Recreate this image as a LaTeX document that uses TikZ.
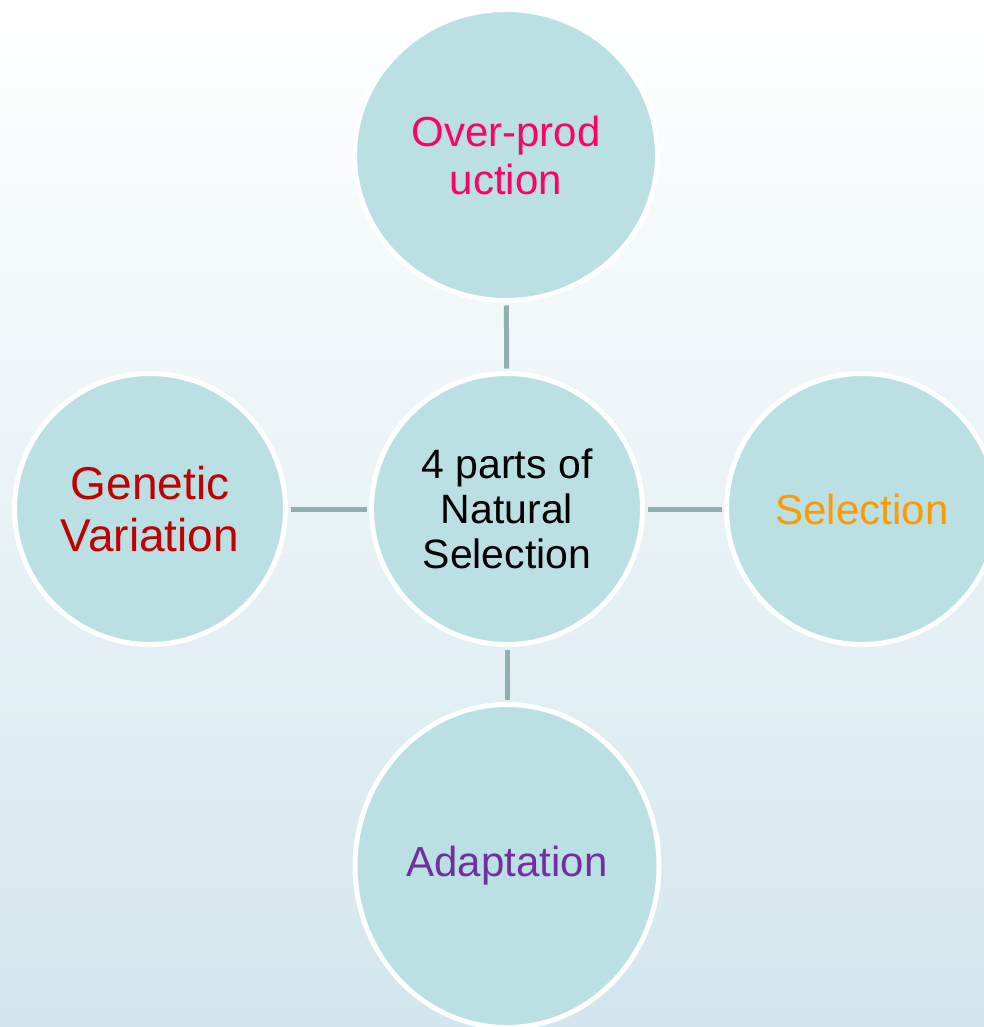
\documentclass[tikz,border=0pt]{standalone}
\usepackage{fontspec}
\setmainfont{Liberation Sans}
\usepackage{tikz}
\usetikzlibrary{shapes.geometric}
\definecolor{bgbottom}{HTML}{D3E6ED}
\definecolor{cfill}{HTML}{BBE0E3}
\definecolor{cline}{HTML}{8FAFB1}
\definecolor{tpink}{HTML}{FF0066}
\definecolor{tred}{HTML}{C00000}
\definecolor{torange}{HTML}{FF9900}
\definecolor{tpurple}{HTML}{7030A0}

\begin{document}
\begin{tikzpicture}[x=1pt, y=-1pt,
 part/.style={ellipse, fill=cfill, draw=white, line width=5pt, align=center, inner sep=0pt},
 link/.style={cline, line width=5pt, shorten <=2.5pt, shorten >=2.5pt}]
 \useasboundingbox (0,0) rectangle (984,1027);
 \shade[top color=white, bottom color=bgbottom] (0,0) rectangle (984,1027);
 \node[part, minimum width=271pt, minimum height=271pt, font=\fontsize{41}{45}\selectfont] (hub) at (507,509) {4 parts of\\Natural\\Selection};
 \node[part, minimum width=303pt, minimum height=291pt, text=tpink, font=\fontsize{42}{48}\selectfont] (over) at (506,155) {Over-prod\\uction};
 \node[part, minimum width=271pt, minimum height=271pt, text=tred, font=\fontsize{46}{52}\selectfont] (genetic) at (150,509) {Genetic\\Variation};
 \node[part, minimum width=271pt, minimum height=271pt, text=torange, font=\fontsize{42}{48}\selectfont] (select) at (862,509) {Selection};
 \node[part, minimum width=304pt, minimum height=323pt, text=tpurple, font=\fontsize{42}{48}\selectfont] (adapt) at (507,866) {Adaptation};
 \draw[link] (over) -- (hub);
 \draw[link] (genetic) -- (hub);
 \draw[link] (hub) -- (select);
 \draw[link] (hub) -- (adapt);
\end{tikzpicture}
\end{document}
